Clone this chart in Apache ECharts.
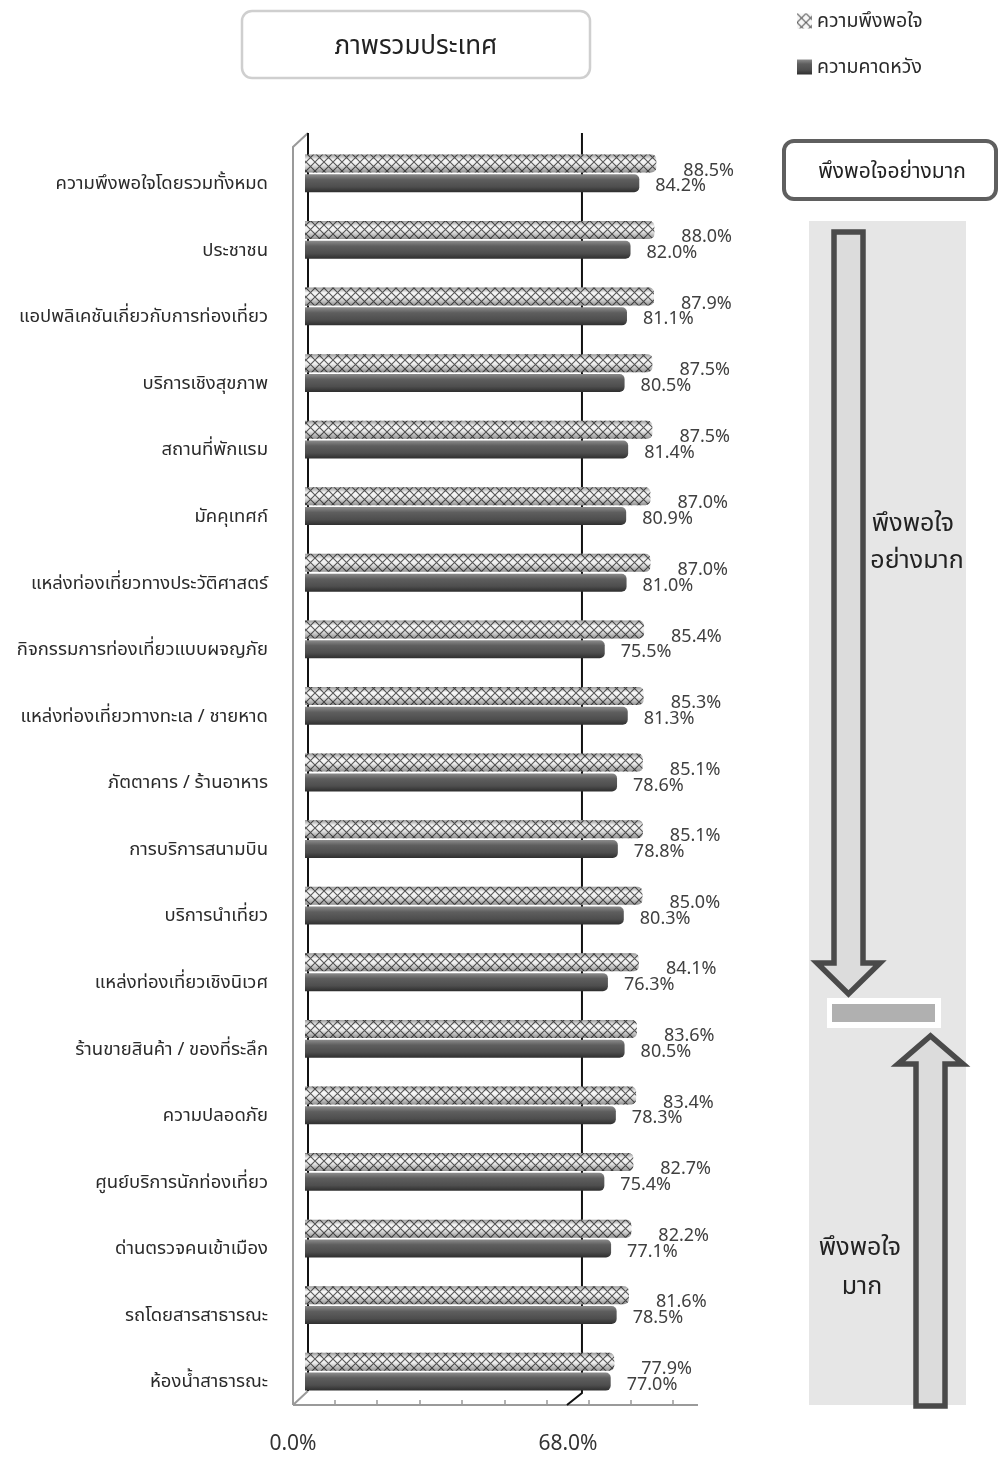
<!DOCTYPE html>
<html>
<head>
<meta charset="utf-8">
<script src="https://cdn.jsdelivr.net/npm/echarts@6/dist/echarts.min.js"></script>
<style>
  html, body { margin: 0; padding: 0; background: #ffffff; }
  #chart { width: 1003px; height: 1457px; }
</style>
</head>
<body>
<div id="chart"></div>
<script>
// ---- data ----
const categories = [
  'ความพึงพอใจโดยรวมทั้งหมด',
  'ประชาชน',
  'แอปพลิเคชันเกี่ยวกับการท่องเที่ยว',
  'บริการเชิงสุขภาพ',
  'สถานที่พักแรม',
  'มัคคุเทศก์',
  'แหล่งท่องเที่ยวทางประวัติศาสตร์',
  'กิจกรรมการท่องเที่ยวแบบผจญภัย',
  'แหล่งท่องเที่ยวทางทะเล / ชายหาด',
  'ภัตตาคาร / ร้านอาหาร',
  'การบริการสนามบิน',
  'บริการนำเที่ยว',
  'แหล่งท่องเที่ยวเชิงนิเวศ',
  'ร้านขายสินค้า / ของที่ระลึก',
  'ความปลอดภัย',
  'ศูนย์บริการนักท่องเที่ยว',
  'ด่านตรวจคนเข้าเมือง',
  'รถโดยสารสาธารณะ',
  'ห้องน้ำสาธารณะ'
];
const satisfaction = [88.5, 88.0, 87.9, 87.5, 87.5, 87.0, 87.0, 85.4, 85.3, 85.1, 85.1, 85.0, 84.1, 83.6, 83.4, 82.7, 82.2, 81.6, 77.9];
const expectation  = [84.2, 82.0, 81.1, 80.5, 81.4, 80.9, 81.0, 75.5, 81.3, 78.6, 78.8, 80.3, 76.3, 80.5, 78.3, 75.4, 77.1, 78.5, 77.0];
const axisLabelValues = [0, 68];
const floorTickValues = [7.6, 18.1, 29.0, 39.5, 50.4, 61.0, 71.5, 82.1, 92.7];
const legendNames = ['ความพึงพอใจ', 'ความคาดหวัง'];
const titleText = 'ภาพรวมประเทศ';
const topBoxText = 'พึงพอใจอย่างมาก';
const upperZoneText = ['พึงพอใจ', 'อย่างมาก'];
const lowerZoneText = ['พึงพอใจ', 'มาก'];

// ---- layout / style ----
const FONT = '"Noto Sans", "Noto Sans Thai", Tahoma, "DejaVu Sans", sans-serif';
const GRID_LEFT = 305, GRID_RIGHT = 301, GRID_TOP = 140, GRID_BOTTOM = 52;
const FLOOR_Y = 1457 - GRID_BOTTOM;

// crosshatch texture for the satisfaction bars
function makeHatch() {
  const c = document.createElement('canvas');
  c.width = 9; c.height = 9;
  const g = c.getContext('2d');
  g.fillStyle = '#f7f7f7';
  g.fillRect(0, 0, 9, 9);
  g.strokeStyle = '#5a5a5a';
  g.lineWidth = 1.1;
  g.beginPath();
  g.moveTo(0, 0); g.lineTo(9, 9);
  g.moveTo(9, 0); g.lineTo(0, 9);
  g.stroke();
  return c;
}
const hatchFill = { image: makeHatch(), repeat: 'repeat' };

const cylinderShade = new echarts.graphic.LinearGradient(0, 0, 0, 1, [
  { offset: 0, color: 'rgba(0,0,0,0.38)' },
  { offset: 0.3, color: 'rgba(0,0,0,0.0)' },
  { offset: 0.55, color: 'rgba(0,0,0,0.04)' },
  { offset: 1, color: 'rgba(0,0,0,0.42)' }
]);
const darkCylinder = new echarts.graphic.LinearGradient(0, 0, 0, 1, [
  { offset: 0, color: '#8c8c8c' },
  { offset: 0.3, color: '#5e5e5e' },
  { offset: 0.7, color: '#4e4e4e' },
  { offset: 1, color: '#2e2e2e' }
]);

const chart = echarts.init(document.getElementById('chart'), null, { renderer: 'canvas' });

const catAxis = (show) => ({
  type: 'category',
  data: categories,
  inverse: true,
  show: show,
  axisLine: { show: false },
  axisTick: { show: false },
  axisLabel: {
    show: show,
    margin: 37,
    fontSize: 18.5,
    color: '#2a2a2a',
    fontFamily: FONT,
    verticalAlign: 'top',
    padding: [1, 0, 0, 0]
  }
});

const option = {
  backgroundColor: '#ffffff',
  animation: false,
  textStyle: { fontFamily: FONT },
  legend: {
    data: legendNames,
    orient: 'vertical',
    left: 797,
    top: 11,
    padding: 0,
    itemGap: 26,
    itemWidth: 15,
    itemHeight: 15,
    icon: 'rect',
    textStyle: { fontSize: 19.5, color: '#2a2a2a', fontFamily: FONT }
  },
  grid: { left: GRID_LEFT, right: GRID_RIGHT, top: GRID_TOP, bottom: GRID_BOTTOM, containLabel: false },
  xAxis: {
    type: 'value',
    min: 0,
    max: 100,
    splitLine: { show: false },
    axisLine: { show: false },
    axisTick: {
      show: true,
      inside: true,
      length: 5,
      customValues: floorTickValues,
      lineStyle: { color: '#999999', width: 1.5 }
    },
    axisLabel: {
      customValues: axisLabelValues,
      margin: 29,
      formatter: (v) => (v === 0 ? '{z|' : '{s|') + v.toFixed(1) + '%}',
      rich: {
        z: { fontSize: 21, color: '#333333', fontFamily: FONT, padding: [0, 24, 0, 0] },
        s: { fontSize: 21, color: '#333333', fontFamily: FONT, padding: [0, 14, 0, 0] }
      }
    }
  },
  yAxis: [catAxis(true), catAxis(false)],
  series: [
    {
      name: legendNames[0],
      type: 'bar',
      yAxisIndex: 0,
      data: satisfaction,
      barWidth: 18,
      barGap: '10%',
      itemStyle: { color: hatchFill, borderRadius: [0, 5, 5, 0] },
      label: {
        show: true,
        position: 'right',
        distance: 4,
        offset: [23, 7],
        formatter: (p) => p.value.toFixed(1) + '%',
        fontSize: 18,
        color: '#404040',
        fontFamily: FONT
      },
      z: 3
    },
    {
      name: legendNames[1],
      type: 'bar',
      yAxisIndex: 0,
      data: expectation,
      barWidth: 18,
      barGap: '10%',
      itemStyle: { color: darkCylinder, borderRadius: [0, 5, 5, 0] },
      label: {
        show: true,
        position: 'right',
        distance: 4,
        offset: [12, 3],
        formatter: (p) => p.value.toFixed(1) + '%',
        fontSize: 18,
        color: '#404040',
        fontFamily: FONT
      },
      z: 3
    },
    // rounded shading laid over the hatched bars
    {
      name: 'shade',
      type: 'bar',
      yAxisIndex: 1,
      data: satisfaction,
      barWidth: 18,
      barGap: '10%',
      silent: true,
      itemStyle: { color: cylinderShade, borderRadius: [0, 5, 5, 0] },
      z: 4
    },
    {
      name: 'spacer',
      type: 'bar',
      yAxisIndex: 1,
      data: expectation,
      barWidth: 18,
      barGap: '10%',
      silent: true,
      itemStyle: { color: 'rgba(0,0,0,0)' },
      z: 4
    }
  ]
};

chart.setOption(option);

// ---- frame, gridlines and side panel ----
const px = (v) => chart.convertToPixel({ xAxisIndex: 0 }, v);
const DEPTH_X = 14, DEPTH_Y = 14;
const wallBackX = px(0) + 3;
const wallFrontX = wallBackX - DEPTH_X - 1;
const grid68Back = px(68) + 7;
const backTop = GRID_TOP - 7;
const backBottom = FLOOR_Y - DEPTH_Y;

const graphics = [
  // side wall outline
  { type: 'polyline', z: 1, silent: true,
    shape: { points: [[wallFrontX, FLOOR_Y], [wallFrontX, backTop + DEPTH_Y], [wallBackX, backTop]] },
    style: { stroke: '#9a9a9a', lineWidth: 2, fill: null } },
  // floor front edge
  { type: 'line', z: 1, silent: true,
    shape: { x1: wallFrontX, y1: FLOOR_Y, x2: px(100) - 4, y2: FLOOR_Y },
    style: { stroke: '#9a9a9a', lineWidth: 2 } },
  { type: 'line', z: 1, silent: true,
    shape: { x1: wallBackX, y1: backBottom, x2: wallFrontX, y2: FLOOR_Y },
    style: { stroke: '#9a9a9a', lineWidth: 2 } },
  // gridline at 0
  { type: 'line', z: 1, silent: true,
    shape: { x1: wallBackX, y1: backTop, x2: wallBackX, y2: backBottom },
    style: { stroke: '#111111', lineWidth: 2 } },
  // gridline at 68
  { type: 'polyline', z: 1, silent: true,
    shape: { points: [[grid68Back, backTop], [grid68Back, backBottom + 2], [grid68Back - DEPTH_X - 1, FLOOR_Y]] },
    style: { stroke: '#111111', lineWidth: 2, fill: null } },

  // title box
  { type: 'rect', silent: true,
    shape: { x: 242, y: 11, width: 348, height: 67, r: 10 },
    style: { fill: '#ffffff', stroke: '#cfcfcf', lineWidth: 2.5 } },
  { type: 'text', silent: true, x: 416, y: 47,
    style: { text: titleText, font: '26px ' + FONT, fill: '#222222', align: 'center', verticalAlign: 'middle' } },

  // top-right label box
  { type: 'rect', silent: true,
    shape: { x: 784, y: 141, width: 212, height: 58, r: 10 },
    style: { fill: '#ffffff', stroke: '#5f5f5f', lineWidth: 4 } },
  { type: 'text', silent: true, x: 892, y: 172,
    style: { text: topBoxText, font: '21px ' + FONT, fill: '#222222', align: 'center', verticalAlign: 'middle' } },

  // grey zone panel
  { type: 'rect', silent: true, z: 0,
    shape: { x: 809, y: 221, width: 157, height: FLOOR_Y - 221 },
    style: { fill: '#e6e6e6' } },

  // downward arrow
  { type: 'polygon', silent: true,
    shape: { points: [[834, 232], [863, 232], [863, 963], [880, 963], [848.5, 994], [817, 963], [834, 963]] },
    style: { fill: '#dcdcdc', stroke: '#4a4a4a', lineWidth: 5.5, lineJoin: 'miter' } },

  // threshold marker
  { type: 'rect', silent: true,
    shape: { x: 827, y: 998, width: 114, height: 30 },
    style: { fill: '#ffffff' } },
  { type: 'rect', silent: true,
    shape: { x: 832, y: 1004, width: 103, height: 18 },
    style: { fill: '#b0b0b0' } },

  // upward arrow
  { type: 'polygon', silent: true,
    shape: { points: [[916, FLOOR_Y + 1], [916, 1064], [898, 1064], [930.5, 1036], [963, 1064], [945, 1064], [945, FLOOR_Y + 1]] },
    style: { fill: '#dcdcdc', stroke: '#4a4a4a', lineWidth: 5.5, lineJoin: 'miter' } },

  // zone captions
  { type: 'text', silent: true, x: 913, y: 524,
    style: { text: upperZoneText[0], font: '25px ' + FONT, fill: '#222222', align: 'center', verticalAlign: 'middle' } },
  { type: 'text', silent: true, x: 917, y: 561,
    style: { text: upperZoneText[1], font: '25px ' + FONT, fill: '#222222', align: 'center', verticalAlign: 'middle' } },
  { type: 'text', silent: true, x: 860, y: 1248,
    style: { text: lowerZoneText[0], font: '25px ' + FONT, fill: '#222222', align: 'center', verticalAlign: 'middle' } },
  { type: 'text', silent: true, x: 862, y: 1287,
    style: { text: lowerZoneText[1], font: '25px ' + FONT, fill: '#222222', align: 'center', verticalAlign: 'middle' } }
];

chart.setOption({ graphic: graphics });
</script>
</body>
</html>
